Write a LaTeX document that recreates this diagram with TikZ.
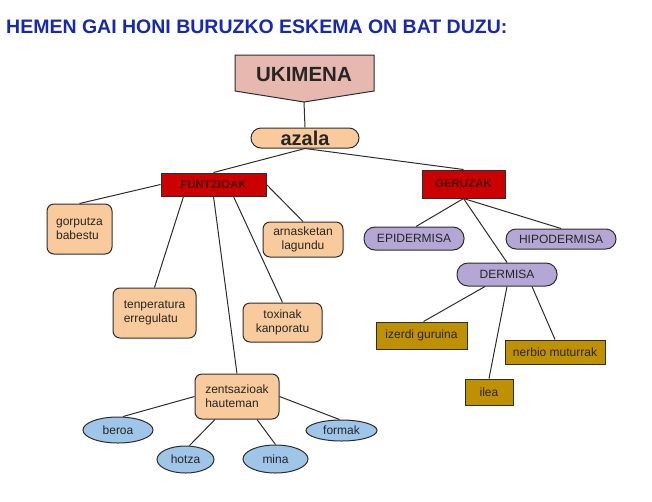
\documentclass[tikz,border=0pt]{standalone}
\usepackage{fontspec}
\setmainfont{Liberation Sans}
\usetikzlibrary{shapes.geometric,calc}
\definecolor{titleblue}{RGB}{22,40,180}
\definecolor{pinkfill}{RGB}{230,184,175}
\definecolor{orangefill}{RGB}{249,203,156}
\definecolor{redfill}{RGB}{204,0,0}
\definecolor{redtext}{RGB}{80,0,0}
\definecolor{lavfill}{RGB}{180,167,214}
\definecolor{goldfill}{RGB}{191,144,0}
\definecolor{bluefill}{RGB}{159,197,232}
\definecolor{edge}{RGB}{45,45,45}
\tikzset{
  base/.style={draw=edge, line width=1pt, inner sep=0pt, text=black!85,
    font=\fontsize{12}{14}\selectfont},
  obox/.style={base, rectangle, rounded corners=7pt, fill=orangefill},
  redbox/.style={base, rectangle, fill=redfill, text=redtext,
    font=\fontsize{11.5}{13}\selectfont\bfseries},
  lav/.style={base, rectangle, rounded corners=11pt, fill=lavfill},
  gold/.style={base, rectangle, fill=goldfill},
  blueell/.style={base, ellipse, fill=bluefill},
  conn/.style={draw=edge, line width=1pt}
}
\begin{document}
\begin{tikzpicture}[x=1pt,y=-1pt]
\useasboundingbox (0,0) rectangle (652,501);
% title
\node[anchor=base west, inner sep=0pt, text=titleblue,
  font=\fontsize{19.5}{22}\selectfont\bfseries] (title) at (6,33)
  {HEMEN GAI HONI BURUZKO ESKEMA ON BAT DUZU:};
% UKIMENA
\draw[draw=edge, line width=1pt, fill=pinkfill]
  (235,55) -- (374,55) -- (374,91) -- (304,102) -- (235,91) -- cycle;
\coordinate (ukitip) at (304,102);
\node[inner sep=0pt, font=\fontsize{20.5}{22}\selectfont\bfseries, text=black!85]
  (uki) at (304,75) {UKIMENA};
% azala
\node[base, rectangle, rounded corners=10pt, fill=orangefill,
  minimum width=108pt, minimum height=20pt,
  font=\fontsize{20}{22}\selectfont\bfseries] (azala) at (305,138) {azala};
% category boxes
\node[redbox, minimum width=105pt, minimum height=23pt] (funtz) at (213.5,184.5) {FUNTZIOAK};
\node[redbox, minimum width=83pt, minimum height=28pt] (geru) at (463.5,184) {GERUZAK};
% functions
\node[obox, minimum width=65pt, minimum height=50pt, align=left] (gorp) at (79.5,229) {gorputza\\babestu};
\node[obox, minimum width=83pt, minimum height=50pt, align=left] (tenp) at (154.5,313) {tenperatura\\erregulatu};
\node[obox, minimum width=79pt, minimum height=39pt, align=center] (tox) at (282.5,322.5) {toxinak\\kanporatu};
\node[obox, minimum width=80pt, minimum height=35pt, align=center] (arn) at (303,239.5) {arnasketan\\lagundu};
\node[obox, minimum width=84pt, minimum height=45pt, align=left] (zent) at (237,396.5) {zentsazioak\\hauteman};
% sensations
\node[blueell, minimum width=70pt, minimum height=26pt] (beroa) at (118,430) {beroa};
\node[blueell, minimum width=57pt, minimum height=27pt] (hotza) at (185.5,459.5) {hotza};
\node[blueell, minimum width=65pt, minimum height=28pt] (mina) at (275.5,459) {mina};
\node[blueell, minimum width=71pt, minimum height=21pt] (formak) at (341.5,430.5) {formak};
% layers
\node[lav, minimum width=100pt, minimum height=23pt] (epi) at (414,238.5) {EPIDERMISA};
\node[lav, minimum width=110pt, minimum height=20pt, rounded corners=10pt] (hipo) at (561,239) {HIPODERMISA};
\node[lav, minimum width=100pt, minimum height=23pt] (derm) at (507,274.5) {DERMISA};
% dermis parts
\node[gold, minimum width=91pt, minimum height=27pt] (izerdi) at (421.5,335.5) {izerdi guruina};
\node[gold, minimum width=100pt, minimum height=24pt] (nerbio) at (555,352) {nerbio muturrak};
\node[gold, minimum width=48pt, minimum height=26pt] (ilea) at (489,392) {ilea};
% connectors
\draw[conn] (ukitip) -- (azala.north);
\draw[conn] (azala.south) -- (funtz.north);
\draw[conn] (azala.south) -- (geru.north);
\draw[conn] (funtz.west) -- (gorp.north);
\draw[conn] ([xshift=-30]funtz.south) -- (tenp.north);
\draw[conn] (funtz.south) -- (zent.north);
\draw[conn] ([xshift=20]funtz.south) -- (tox.north);
\draw[conn] (funtz.east) -- (arn.north);
\draw[conn] (zent.west) -- ([xshift=5]beroa.north);
\draw[conn] ([xshift=-22]zent.south) -- ([xshift=4]hotza.north);
\draw[conn] ([xshift=20]zent.south) -- (mina.north);
\draw[conn] (zent.east) -- ([xshift=-2]formak.north);
\draw[conn] (geru.south) -- ([xshift=2]epi.north);
\draw[conn] (geru.south) -- (hipo.north);
\draw[conn] (geru.south) -- (derm.north);
\draw[conn] ([xshift=-22]derm.south) -- ([xshift=2]izerdi.north);
\draw[conn] (derm.south) -- (ilea.north);
\draw[conn] ([xshift=25]derm.south) -- (nerbio.north);
\end{tikzpicture}
\end{document}
